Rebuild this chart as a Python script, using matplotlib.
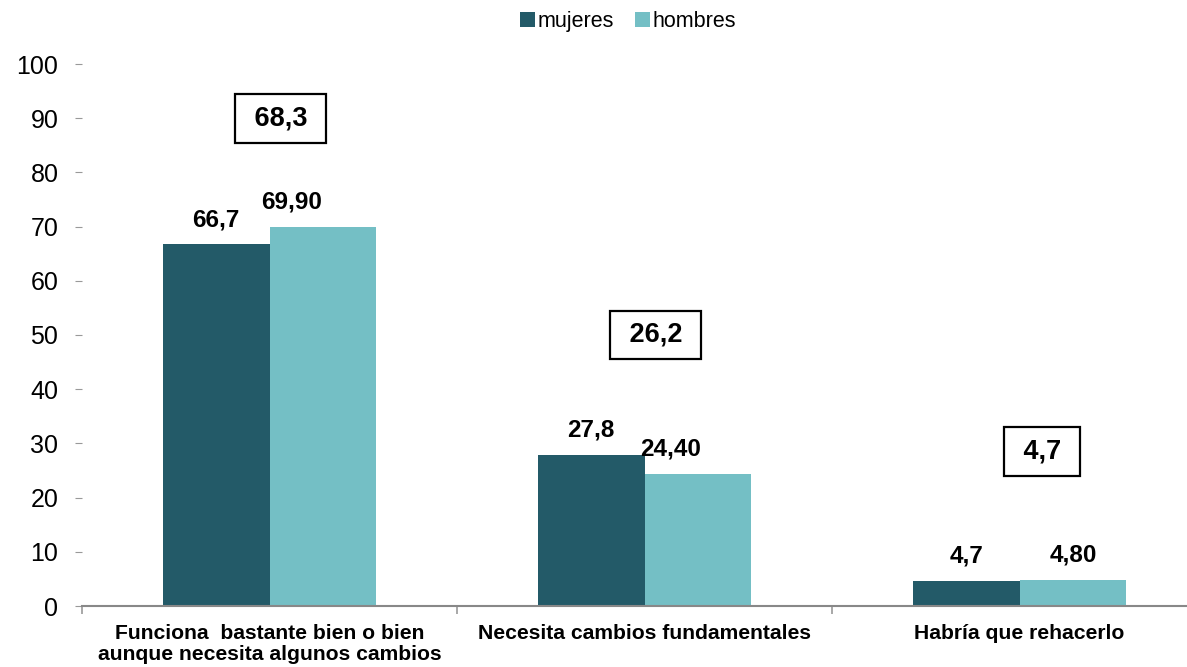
import numpy as np
import matplotlib
matplotlib.use("Agg")
import matplotlib.pyplot as plt

# ------------------ DATOS ------------------
categorias = ["Funciona  bastante bien o bien\naunque necesita algunos cambios",
              "Necesita cambios fundamentales",
              "Habría que rehacerlo"]
mujeres = [66.7, 27.8, 4.7]
hombres = [69.90, 24.40, 4.80]
etiquetas_mujeres = ["66,7", "27,8", "4,7"]
etiquetas_hombres = ["69,90", "24,40", "4,80"]
totales = ["68,3", "26,2", "4,7"]

# ------------------ POSICIONES DE ETIQUETAS ------------------
pos_totales = [90, 50, 28.5]
dx_totales = [0.03, 0.03, 0.06]
dx_hombres = [-0.083, -0.072, 0.0]

COLOR_MUJ = "#235A68"
COLOR_HOM = "#74BFC5"

plt.rcParams["font.family"] = ["Liberation Sans", "DejaVu Sans"]

fig = plt.figure(figsize=(11.87, 6.67), dpi=100)
ax = fig.add_axes([82 / 1187, 1 - 606 / 667, 1104 / 1187, (606 - 64) / 667])

x = np.arange(len(categorias))
ancho = 0.285
b1 = ax.bar(x - ancho / 2, mujeres, ancho, color=COLOR_MUJ, label="mujeres")
b2 = ax.bar(x + ancho / 2, hombres, ancho, color=COLOR_HOM, label="hombres")

for barra, txt in zip(b1, etiquetas_mujeres):
    ax.text(barra.get_x() + barra.get_width() / 2, barra.get_height() + 4.6, txt,
            ha="center", va="center", fontsize=17.5, fontweight="bold")
for barra, txt, dx in zip(b2, etiquetas_hombres, dx_hombres):
    ax.text(barra.get_x() + barra.get_width() / 2 + dx, barra.get_height() + 4.6, txt,
            ha="center", va="center", fontsize=17.5, fontweight="bold")

# recuadros con el total
for i, (txt, y, dx) in enumerate(zip(totales, pos_totales, dx_totales)):
    ax.text(i + dx, y, " " + txt + " ", ha="center", va="center", fontsize=19.5, fontweight="bold",
            bbox=dict(boxstyle="square,pad=0.42", facecolor="white", edgecolor="black", linewidth=1.6))

ax.set_xlim(-0.5, 2.444)
ax.set_ylim(0, 100)
ax.set_yticks(range(0, 101, 10))
ax.tick_params(axis="y", labelsize=18, length=5, color="#999999", pad=12, direction="out")
ax.set_xticks(x)
ax.set_xticklabels(categorias, fontsize=15.2, fontweight="bold", linespacing=1.1)
ax.tick_params(axis="x", length=0, pad=13)
# separadores entre categorias
ax.set_xticks([-0.5, 0.5, 1.5], minor=True)
ax.tick_params(axis="x", which="minor", length=6, color="#999999", width=1.2)

for lado in ["top", "right", "left"]:
    ax.spines[lado].set_visible(False)
ax.spines["bottom"].set_color("#888888")
ax.spines["bottom"].set_linewidth(1.5)

fig.legend(loc="upper center", bbox_to_anchor=(0.529, 1.012), ncol=2, frameon=False,
           fontsize=15.5, handlelength=0.7, handleheight=0.7, handletextpad=0.1, columnspacing=1.0)

fig.savefig("out.png", dpi=100)
